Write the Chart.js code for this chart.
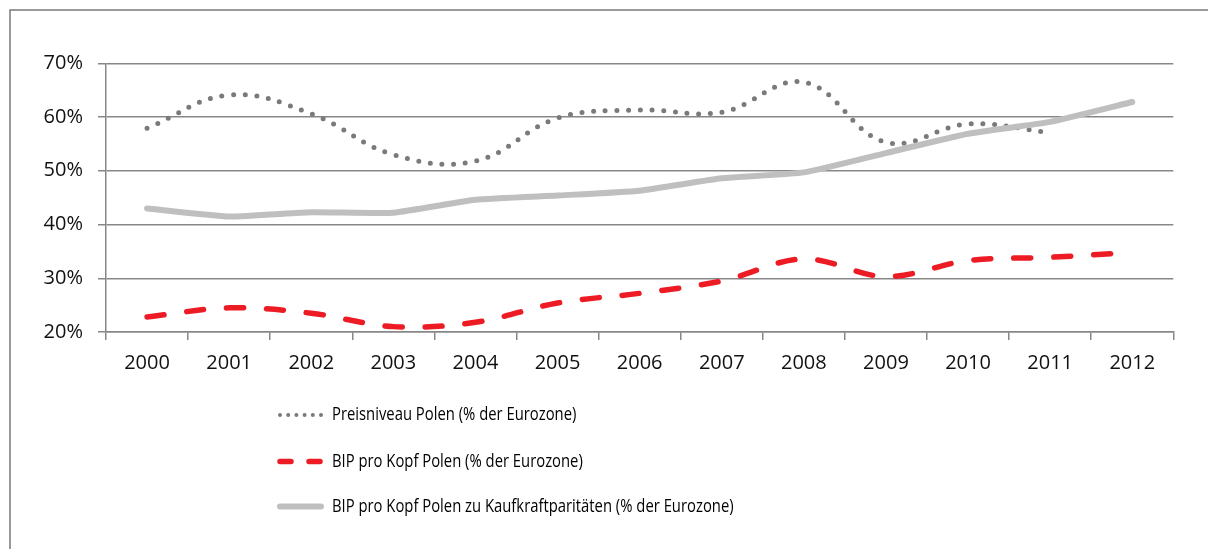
<!DOCTYPE html>
<html><head><meta charset="utf-8">
<script src="https://cdn.jsdelivr.net/npm/chart.js@4.4.1/dist/chart.umd.min.js"></script>
<style>html,body{margin:0;padding:0;background:#fff;overflow:hidden}#wrap{width:1208px;height:549px;position:relative}canvas{display:block}</style>
</head><body><div id="wrap"><canvas id="c" width="1208" height="549"></canvas></div>
<script>
const categories = ['2000','2001','2002','2003','2004','2005','2006','2007','2008','2009','2010','2011','2012'];
const preisniveau = [57.9, 64.1, 60.6, 53.0, 51.8, 59.8, 61.3, 60.9, 66.5, 55.3, 58.7, 57.1, null];
const bipProKopf = [22.8, 24.5, 23.5, 21.0, 21.8, 25.4, 27.2, 29.5, 33.6, 30.3, 33.3, 33.9, 34.8];
const bipKaufkraft = [43.0, 41.5, 42.3, 42.2, 44.6, 45.4, 46.3, 48.6, 49.7, 53.3, 56.9, 59.1, 62.8];
const yTicks = [20, 30, 40, 50, 60, 70];
const seriesLabels = [
  'Preisniveau Polen (% der Eurozone)',
  'BIP pro Kopf Polen (% der Eurozone)',
  'BIP pro Kopf Polen zu Kaufkraftparitäten (% der Eurozone)'
];

const FONT = "'Open Sans', 'DejaVu Sans', sans-serif";
const GRID = '#878787';

const frame = {
  id: 'frame',
  beforeDraw(chart) {
    const ctx = chart.ctx;
    ctx.save();
    ctx.fillStyle = '#fff';
    ctx.fillRect(0, 0, chart.width, chart.height);
    ctx.strokeStyle = '#7a7a7a';
    ctx.lineWidth = 1.5;
    ctx.strokeRect(10, 10, 1400, 1000);
    ctx.restore();
  }
};

const legendRows = {
  id: 'legendRows',
  afterDraw(chart) {
    const ctx = chart.ctx;
    const rows = [415, 461.5, 506.5];
    const x0 = 280, x1 = 321, tx = 332;
    chart.data.datasets.forEach((ds, i) => {
      const y = rows[i];
      ctx.save();
      ctx.strokeStyle = ds.borderColor;
      ctx.lineCap = 'round';
      if (i === 0) { ctx.lineWidth = 4; ctx.setLineDash([0, 8.2]); }
      else if (i === 1) { ctx.lineWidth = 5.5; ctx.setLineDash([11, 18]); }
      else { ctx.lineWidth = 6; ctx.setLineDash([]); }
      ctx.beginPath();
      ctx.moveTo(x0, y);
      ctx.lineTo(x1, y);
      ctx.stroke();
      ctx.restore();
      ctx.save();
      ctx.fillStyle = '#000';
      ctx.font = '19px ' + FONT;
      ctx.textBaseline = 'middle';
      ctx.translate(tx, y);
      ctx.scale(0.78, 1);
      ctx.fillText(ds.label, 0, 0);
      ctx.restore();
    });
  }
};

new Chart(document.getElementById('c'), {
  type: 'line',
  data: {
    labels: categories,
    datasets: [
      { label: seriesLabels[0], data: preisniveau, borderColor: '#7a7a7a', borderWidth: 5,
        borderDash: [0, 11.7], borderCapStyle: 'round', tension: 0.4, order: 2 },
      { label: seriesLabels[1], data: bipProKopf, borderColor: '#ed1c24', borderWidth: 5.5,
        borderDash: [17, 23], borderCapStyle: 'round', tension: 0.35, order: 1 },
      { label: seriesLabels[2], data: bipKaufkraft, borderColor: '#bfbfbf', borderWidth: 6,
        borderCapStyle: 'round', borderJoinStyle: 'round', tension: 0.15, order: 0 }
    ]
  },
  options: {
    responsive: false,
    devicePixelRatio: 1,
    animation: false,
    layout: { padding: { left: 10, right: 34.7, top: 63.3, bottom: 167 } },
    elements: { point: { radius: 0, hoverRadius: 0 }, line: { fill: false } },
    plugins: { legend: { display: false }, tooltip: { enabled: false }, title: { display: false } },
    scales: {
      x: {
        offset: true,
        grid: { display: true, drawOnChartArea: false, drawTicks: true, tickLength: 8, color: GRID, lineWidth: 1.5, offset: true },
        border: { display: true, color: GRID, width: 1.5 },
        ticks: { font: { family: FONT, size: 20 }, color: '#111', padding: 11, maxRotation: 0, autoSkip: false },
        afterFit: s => { s.height = 50; }
      },
      y: {
        min: 20, max: 70,
        afterBuildTicks: s => { s.ticks = yTicks.map(v => ({ value: v })); },
        grid: { color: GRID, lineWidth: 1.5, tickLength: 8 },
        border: { display: true, color: GRID, width: 1.5 },
        ticks: { font: { family: FONT, size: 20 }, color: '#111', padding: 15, callback: v => v + '%' },
        afterFit: s => { s.width = 96; }
      }
    }
  },
  plugins: [frame, legendRows]
});
</script>
</body></html>
